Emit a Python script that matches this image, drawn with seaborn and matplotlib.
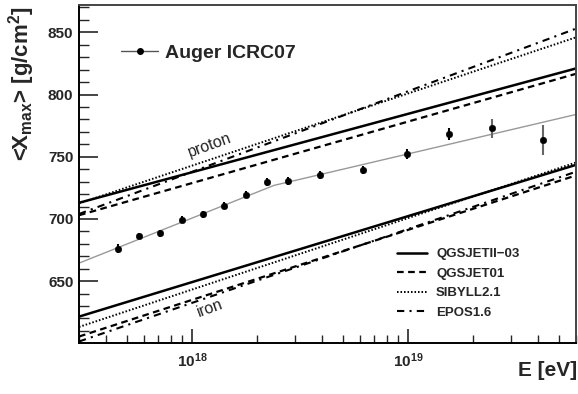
import numpy as np
import pandas as pd
import matplotlib
matplotlib.use("Agg")
import matplotlib.pyplot as plt
import seaborn as sns
from matplotlib.ticker import LogLocator, MultipleLocator, FixedLocator, NullFormatter

# ---------------- data ----------------
auger_E = [4.53e17, 5.66e17, 7.11e17, 8.96e17, 1.125e18, 1.41e18, 1.775e18, 2.23e18,
           2.79e18, 3.90e18, 6.17e18, 9.89e18, 1.55e19, 2.46e19, 4.21e19]
auger_X = [676.1, 686.3, 688.5, 699.2, 703.8, 710.7, 719.6, 729.8,
           730.6, 735.2, 739.3, 752.2, 768.3, 772.8, 763.5]
auger_err = [3.8, 2.8, 2.8, 2.8, 2.8, 2.8, 2.8, 3.0, 3.0, 3.0, 3.5, 3.8, 5.1, 7.8, 11.7]

fit_E = [3e17, 2.4e18, 6e19]
fit_X = [664.5, 727.0, 784.0]

model_E = [3e17, 6e19]
models = ["QGSJETII\u221203", "QGSJET01", "SIBYLL2.1", "EPOS1.6"]
proton_X = {
    "QGSJETII\u221203": [713.0, 821.0],
    "QGSJET01": [703.0, 816.7],
    "SIBYLL2.1": [712.5, 846.0],
    "EPOS1.6": [704.0, 853.0],
}
iron_X = {
    "QGSJETII\u221203": [621.5, 743.5],
    "QGSJET01": [605.5, 735.0],
    "SIBYLL2.1": [613.2, 745.4],
    "EPOS1.6": [601.5, 738.0],
}

# ---------------- style ----------------
sns.set_style("white")
plt.rcParams['font.family'] = ['Liberation Sans', 'DejaVu Sans']
plt.rcParams['mathtext.fontset'] = 'custom'
plt.rcParams['mathtext.rm'] = 'Liberation Sans:bold'
plt.rcParams['mathtext.it'] = 'Liberation Sans:bold'
plt.rcParams['mathtext.bf'] = 'Liberation Sans:bold'

fig = plt.figure(figsize=(5.78, 3.94), dpi=100)
ax = fig.add_axes([79/578, 1-343/394, (576-79)/578, (343-5)/394])

dash_styles = {
    "QGSJETII\u221203": (None, 1.8),
    "QGSJET01": ((0, (3.0, 2.0)), 1.6),
    "SIBYLL2.1": ((0, (0.8, 1.0)), 1.4),
    "EPOS1.6": ((0, (3.5, 2.5, 1.0, 2.5)), 1.5),
}

rows = []
for comp, dct in (("proton", proton_X), ("iron", iron_X)):
    for m in models:
        for e, x in zip(model_E, dct[m]):
            rows.append(dict(comp=comp, model=m, E=e, X=x))
df = pd.DataFrame(rows)

for comp in ("proton", "iron"):
    for m in models:
        sub = df[(df.comp == comp) & (df.model == m)]
        ls, lw = dash_styles[m]
        sns.lineplot(data=sub, x="E", y="X", ax=ax, color="black", lw=lw,
                     linestyle=ls if ls is not None else "-", legend=False,
                     estimator=None, sort=True)

# fit line
sns.lineplot(x=fit_E, y=fit_X, ax=ax, color="#999999", lw=1.0, legend=False,
             estimator=None)

# data points
ebar_colors = ["black"] * 13 + ["#666666", "#666666"]
for e, x, er, c in zip(auger_E, auger_X, auger_err, ebar_colors):
    ax.errorbar([e], [x], yerr=[er], fmt="none", ecolor=c, elinewidth=1.5, capsize=0)
sns.scatterplot(x=auger_E, y=auger_X, ax=ax, color="black", s=22, edgecolor="black",
                legend=False, zorder=5)

ax.set_xscale("log")
ax.set_xlim(3e17, 6e19)
ax.set_ylim(600.3, 872)

# ticks
ax.xaxis.set_major_locator(FixedLocator([1e18, 1e19]))
ax.xaxis.set_minor_locator(LogLocator(base=10, subs=np.arange(2, 10)))
ax.xaxis.set_minor_formatter(NullFormatter())
ax.set_xticklabels([r"$\mathbf{10^{18}}$", r"$\mathbf{10^{19}}$"])
ax.yaxis.set_major_locator(MultipleLocator(50))
ax.yaxis.set_minor_locator(MultipleLocator(10))
ax.tick_params(axis="both", which="major", direction="in", length=10, width=1.2,
               labelsize=11, pad=4, left=True, bottom=True, top=False, right=False)
ax.tick_params(axis="y", which="major", length=14)
ax.tick_params(axis="y", which="minor", direction="in", length=7, width=1.0, left=True)
ax.tick_params(axis="x", which="minor", direction="in", length=6, width=1.0, bottom=True)
ax.tick_params(axis="x", which="major", pad=6)
for lab in ax.get_yticklabels():
    lab.set_fontweight("bold")

for side in ("left", "bottom"):
    ax.spines[side].set_linewidth(1.4)
    ax.spines[side].set_color("black")
for side in ("top", "right"):
    ax.spines[side].set_linewidth(1.4)
    ax.spines[side].set_color("#444444")

ax.set_xlabel("")
ax.set_ylabel("")
fig.text(577/578, 1-370/394, "E [eV]", ha="right", va="center", fontsize=15,
         fontweight="bold")
fig.text(22/578, 1-84/394, r"<X$_{\mathbf{max}}$> [g/cm$^{\mathbf{2}}$]", ha="center",
         va="center", rotation=90, fontsize=16, fontweight="bold")

# annotations
ax.text(1.21e18, 759.5, "proton", rotation=20, ha="center", va="center",
        fontsize=11.5, color="#222222")
ax.text(1.21e18, 628.5, "iron", rotation=20, ha="center", va="center",
        fontsize=11.5, color="#222222")

# Auger legend
leg1 = ax.legend(handles=[plt.Line2D([], [], color="#555555", lw=1.0, marker="o",
                                     markersize=4, markerfacecolor="black",
                                     markeredgecolor="black")],
                 labels=["Auger ICRC07"], loc="upper left",
                 bbox_to_anchor=(0.05, 0.935), frameon=False, handlelength=1.9,
                 prop=dict(size=14, weight="bold"), handletextpad=0.35)
ax.add_artist(leg1)

leg_handles = []
for m in models:
    ls, lw = dash_styles[m]
    leg_handles.append(plt.Line2D([], [], color="black", lw=lw,
                                  linestyle=ls if ls is not None else "-"))
ax.legend(handles=leg_handles, labels=models, loc="lower left",
          bbox_to_anchor=(0.615, 0.037), frameon=False, handlelength=2.3,
          prop=dict(size=9.5, weight="bold"), labelspacing=0.55, handletextpad=0.7)

fig.savefig("out.png", dpi=100)
